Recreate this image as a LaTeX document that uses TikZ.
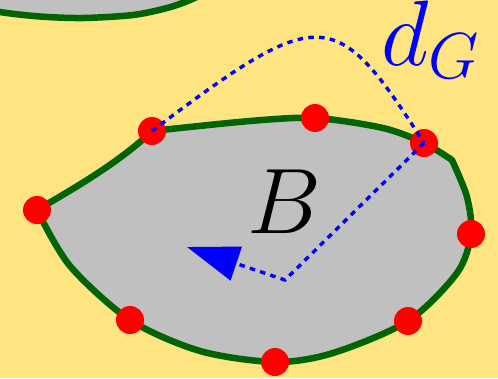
\documentclass[tikz,border=0pt]{standalone}
\usepackage{fix-cm}
\usetikzlibrary{arrows.meta}
\definecolor{bgyellow}{RGB}{255,228,130}
\definecolor{blobgray}{RGB}{192,192,192}
\definecolor{edgegreen}{RGB}{0,100,0}
\tikzset{
  blob/.style={fill=blobgray, draw=edgegreen, line width=6.5pt, line join=round},
  vertexdot/.style={circle, fill=red, inner sep=0pt, minimum size=28pt},
  geodesic/.style={draw=blue, line width=3.4pt, dash pattern=on 5.5pt off 5.3pt},
  biglabel/.style={inner sep=0pt, font=\fontsize{93}{93}\selectfont}
}
\begin{document}
\begin{tikzpicture}[x=1pt,y=-1pt]
\useasboundingbox (0,0) rectangle (498,378);
\fill[bgyellow] (0,0) rectangle (498,378);
\begin{scope}
\clip (0,0) rectangle (498,378);
% top blob
\fill[blobgray] plot[smooth] coordinates {(-20,6) (0,12) (40,16.5) (83,18) (133,15) (167,8) (190,0) (215,-12)} -- (215,-40) -- (-20,-40) -- cycle;
\draw[edgegreen, line width=6.5pt] plot[smooth] coordinates {(-20,6) (0,12) (40,16.5) (83,18) (133,15) (167,8) (190,0) (215,-12)};
% main blob B
\draw[blob] (37,210) .. controls (80,185) and (122,160) .. (152,131)
  -- plot[smooth] coordinates {(152,131) (250,121) (315,118) (383,128) (424,143) (452,160)}
  -- plot[smooth] coordinates {(452,160) (467,197) (471,234) (457,273) (408,321) (333,353) (275,362) (200,351) (130,320) (70,266) (37,210)}
  -- cycle;
\end{scope}
% boundary vertices
\node[vertexdot] (p1) at (37,210) {};
\node[vertexdot] (p2) at (152,131) {};
\node[vertexdot] (p3) at (315,118) {};
\node[vertexdot] (p4) at (424,143) {};
\node[vertexdot] (p5) at (471,234) {};
\node[vertexdot] (p6) at (408,321) {};
\node[vertexdot] (p7) at (275,362) {};
\node[vertexdot] (p8) at (130,320) {};
\coordinate (bend) at (285,280);
\coordinate (tip) at (187,247);
% dotted paths
\draw[geodesic] (p2.center) .. controls (321,4) and (335,4) .. (p4.center);
\draw[geodesic, -{Triangle[length=52pt,width=35pt]}] (p4.center) -- (bend) -- (tip);
% labels
\node[biglabel, anchor=base] (lB) at (284,233) {$B$};
\node[biglabel, anchor=base west, text=blue, text height=55pt] (lG) at (381,65) {$d_G$};
\end{tikzpicture}
\end{document}
